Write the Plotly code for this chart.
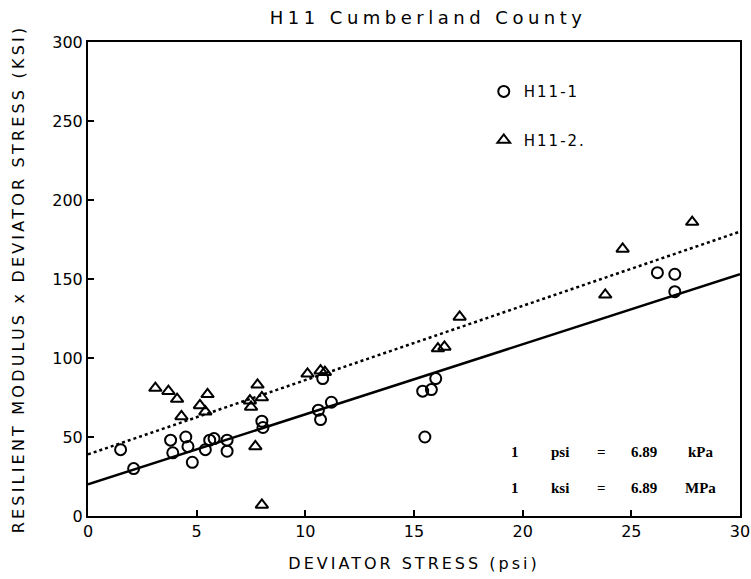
import plotly.graph_objects as go

# H11-1 (circles)
h1_x = [1.5, 2.1, 3.8, 3.9, 4.5, 4.6, 4.8, 5.4, 5.6, 5.8, 6.4, 6.4, 8.0, 8.05,
        10.6, 10.7, 11.2, 10.8, 15.5, 15.4, 15.8, 16.0, 26.2, 27.0, 27.0]
h1_y = [42, 30, 48, 40, 50, 44, 34, 42, 48, 49, 48, 41, 60, 56,
        67, 61, 72, 87, 50, 79, 80, 87, 154, 153, 142]

# H11-2 (triangles)
h2_x = [3.1, 3.7, 4.1, 4.3, 5.15, 5.4, 5.5, 7.45, 7.5, 7.8, 8.0, 7.7, 8.0,
        10.1, 10.7, 10.9, 16.1, 16.4, 17.1, 23.8, 24.6, 27.8]
h2_y = [81, 79, 74, 63, 70, 66, 77, 73, 69, 83, 75, 44, 7,
        90, 92, 91, 106, 107, 126, 140, 169, 186]

# regression lines
fit_x = [0, 30]
fit1_y = [20, 153]
fit2_y = [39, 180]

x_ticks = [0, 5, 10, 15, 20, 25, 30]
y_ticks = [0, 50, 100, 150, 200, 250, 300]

PLOT_FONT = "DejaVu Sans"

def spaced(t, sp):
    return '<span style="letter-spacing:%spx">%s</span>' % (sp, t)

fig = go.Figure()

fig.add_trace(go.Scatter(x=fit_x, y=fit1_y, mode="lines",
                         line=dict(color="black", width=2.5),
                         showlegend=False, hoverinfo="skip"))
fig.add_trace(go.Scatter(x=fit_x, y=fit2_y, mode="lines",
                         line=dict(color="black", width=2.5, dash="dot"),
                         showlegend=False, hoverinfo="skip"))

fig.add_trace(go.Scatter(x=h1_x, y=h1_y, mode="markers", name=spaced("H11-1", 2),
                         legendgroup="a",
                         marker=dict(symbol="circle-open", size=11, color="black",
                                     line=dict(width=2, color="black"))))
fig.add_trace(go.Scatter(x=h2_x, y=h2_y, mode="markers", name=spaced("H11-2.", 2),
                         legendgroup="b",
                         marker=dict(symbol="triangle-up-open", size=11, color="black",
                                     line=dict(width=2, color="black"))))

ann_font = dict(family="Liberation Serif", size=15, color="black", weight="bold")
rows = [(40.6, ["1", "psi", "=", "6.89", "kPa"]),
        (17.8, ["1", "ksi", "=", "6.89", "MPa"])]
cols = [19.63, 21.7, 23.63, 25.6, 28.2]
for yv, words in rows:
    for xv, w in zip(cols, words):
        fig.add_annotation(x=xv, y=yv, xref="x", yref="y", text=w,
                           showarrow=False, font=ann_font,
                           xanchor="center", yanchor="middle")

axis_common = dict(
    showline=True, linecolor="black", linewidth=2, mirror=True,
    ticks="inside", ticklen=6, tickwidth=1.5, tickcolor="black",
    showgrid=False, zeroline=False, automargin=False,
    tickfont=dict(family=PLOT_FONT, size=16, color="black"),
)

fig.update_layout(
    width=751, height=579,
    margin=dict(l=88, r=11, t=42, b=63),
    paper_bgcolor="white", plot_bgcolor="white",
    font=dict(family=PLOT_FONT, color="black"),
    title=dict(text=spaced("H11 Cumberland County", 4.5),
               x=0.57, xref="container", xanchor="center",
               y=0.969, yref="container", yanchor="middle",
               font=dict(family=PLOT_FONT, size=18, color="black")),
    xaxis=dict(range=[0, 30], tickvals=x_ticks,
               title=dict(text=spaced("DEVIATOR STRESS (psi)", 3),
                          font=dict(family=PLOT_FONT, size=16, color="black"),
                          standoff=18),
               **axis_common),
    yaxis=dict(range=[0, 300], tickvals=y_ticks,
               title=dict(text=spaced("RESILIENT MODULUS x DEVIATOR STRESS (KSI)", 3.2),
                          font=dict(family=PLOT_FONT, size=16, color="black"),
                          standoff=24),
               **axis_common),
    legend=dict(x=0.607, y=0.93, xanchor="left", yanchor="top",
                bgcolor="rgba(0,0,0,0)", tracegroupgap=26,
                font=dict(family=PLOT_FONT, size=15, color="black")),
)

fig.write_html("out.html")
